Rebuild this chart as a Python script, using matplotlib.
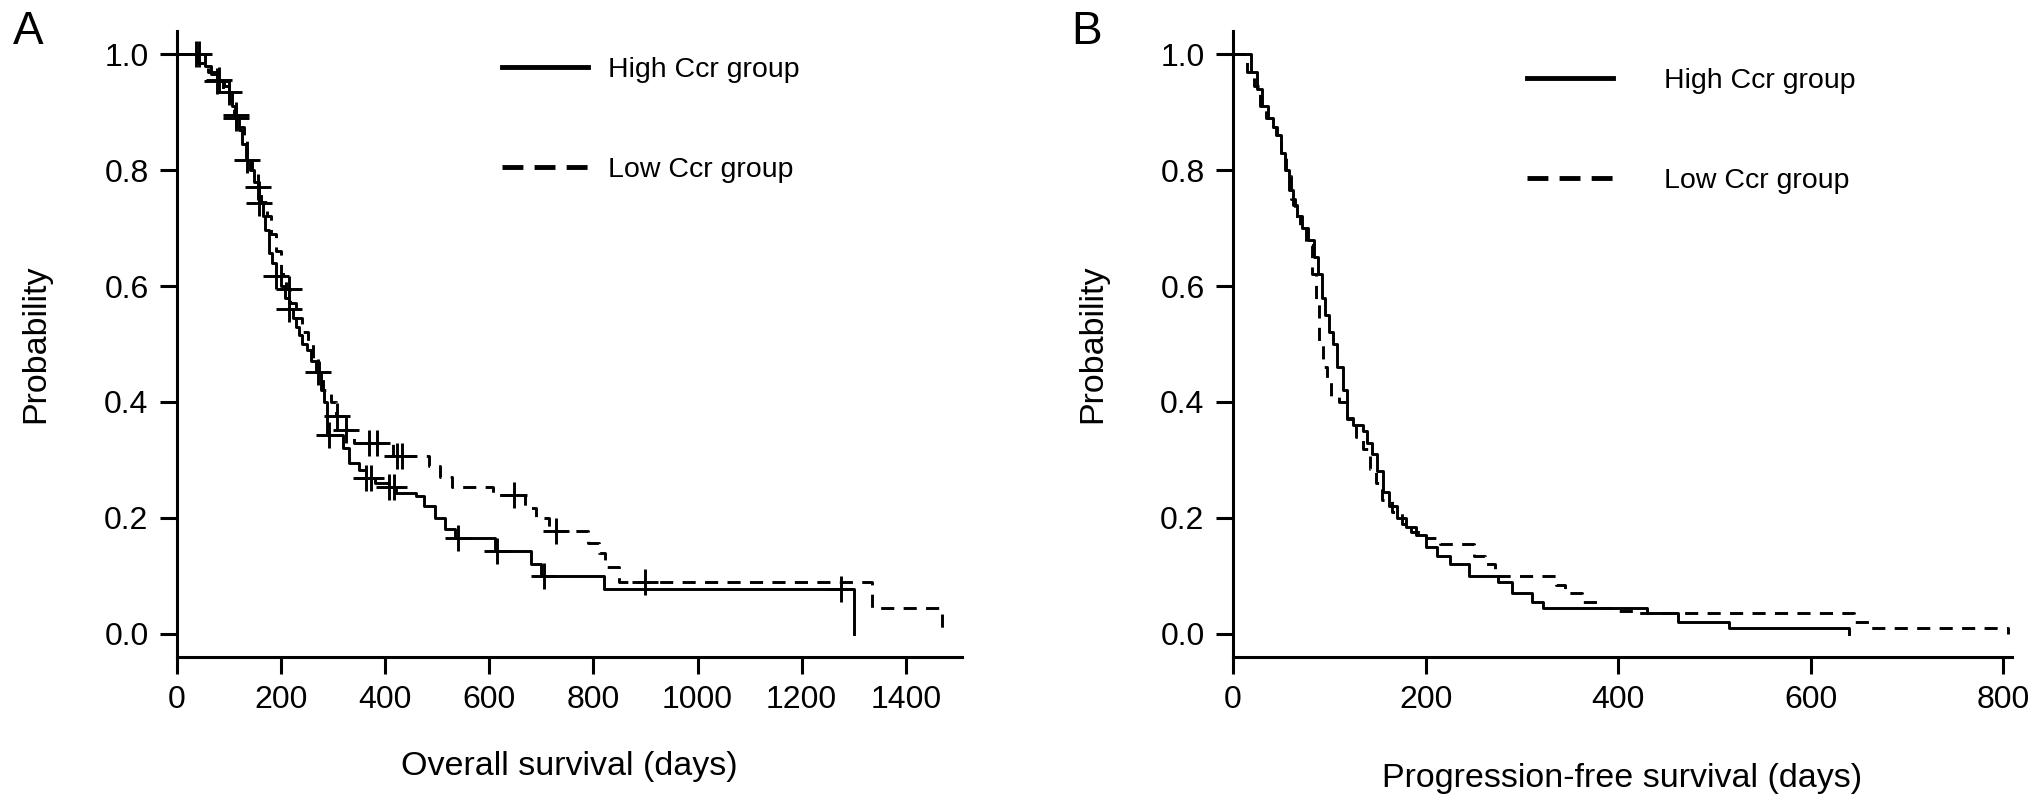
import numpy as np
from matplotlib import pyplot as plt
from matplotlib.lines import Line2D

# Panel A: overall survival (days) / probability
os_high_t = [0, 54, 65, 77, 90, 100, 106, 112, 119, 125, 132, 140, 148, 158, 165, 170, 177, 183, 190, 200,
             208, 215, 222, 228, 235, 241, 250, 258, 267, 276, 282, 289, 318, 330, 350, 363, 380, 408, 420, 460,
             475, 495, 515, 535, 610, 680, 700, 820, 1300]
os_high_s = [1.0, 0.979, 0.965, 0.953, 0.945, 0.935, 0.91, 0.89, 0.87, 0.845, 0.818, 0.80, 0.78, 0.744, 0.72, 0.697, 0.657, 0.64, 0.617, 0.60,
             0.58, 0.56, 0.545, 0.53, 0.515, 0.50, 0.49, 0.47, 0.452, 0.421, 0.40, 0.343, 0.32, 0.295, 0.283, 0.268, 0.26, 0.254, 0.243, 0.237,
             0.22, 0.20, 0.18, 0.166, 0.143, 0.12, 0.10, 0.077, 0.0]
os_high_cens = [36, 42, 77, 100, 113, 135, 158, 190, 215, 270, 292, 363, 372, 408, 417, 540, 615, 705, 1275]

os_low_t = [0, 40, 60, 75, 88, 100, 110, 118, 128, 135, 145, 155, 162, 172, 180, 190, 200, 210, 218, 228,
            240, 252, 262, 272, 280, 295, 305, 324, 340, 415, 485, 506, 528, 608, 668, 690, 715, 790, 810, 822,
            850, 1335, 1470]
os_low_s = [1.0, 0.985, 0.97, 0.955, 0.94, 0.92, 0.895, 0.875, 0.85, 0.825, 0.80, 0.77, 0.745, 0.72, 0.69, 0.66, 0.62, 0.595, 0.57, 0.545,
            0.52, 0.50, 0.475, 0.45, 0.42, 0.40, 0.375, 0.352, 0.33, 0.306, 0.29, 0.27, 0.254, 0.24, 0.217, 0.20, 0.177, 0.157, 0.14, 0.116,
            0.09, 0.045, 0.0]
os_low_cens = [80, 113, 155, 215, 308, 325, 369, 385, 423, 433, 648, 728, 900]

# Panel B: progression-free survival (days) / probability
pfs_high_t = [0, 19, 25, 30, 36, 42, 46, 50, 54, 58, 62, 66, 72, 78, 84, 88, 92, 96, 100, 104,
              108, 114, 118, 125, 135, 139, 144, 150, 156, 162, 170, 180, 190, 200, 212, 225, 245, 275, 290, 310,
              322, 430, 462, 515, 640]
pfs_high_s = [1.0, 0.97, 0.94, 0.91, 0.89, 0.875, 0.86, 0.83, 0.80, 0.765, 0.74, 0.72, 0.70, 0.68, 0.65, 0.62, 0.58, 0.55, 0.52, 0.50,
              0.46, 0.42, 0.372, 0.36, 0.35, 0.33, 0.31, 0.28, 0.245, 0.22, 0.20, 0.185, 0.17, 0.15, 0.135, 0.12, 0.10, 0.09, 0.07, 0.055,
              0.045, 0.035, 0.02, 0.01, 0.0]

pfs_low_t = [0, 15, 22, 28, 34, 40, 45, 50, 55, 60, 64, 70, 76, 82, 86, 89, 93, 98, 102, 110,
             118, 128, 135, 142, 148, 155, 165, 175, 185, 200, 215, 250, 262, 272, 335, 345, 362, 380, 400, 422,
             645, 662, 805]
pfs_low_s = [1.0, 0.97, 0.945, 0.91, 0.89, 0.875, 0.86, 0.83, 0.79, 0.75, 0.72, 0.70, 0.67, 0.62, 0.576, 0.50, 0.46, 0.44, 0.41, 0.40,
             0.37, 0.34, 0.318, 0.285, 0.26, 0.23, 0.21, 0.19, 0.175, 0.165, 0.155, 0.135, 0.12, 0.10, 0.085, 0.07, 0.055, 0.045, 0.04, 0.035,
             0.02, 0.01, 0.0]

y_ticks = [0.0, 0.2, 0.4, 0.6, 0.8, 1.0]
os_ticks = [0, 200, 400, 600, 800, 1000, 1200, 1400]
pfs_ticks = [0, 200, 400, 600, 800]
legend_labels = ["High Ccr group", "Low Ccr group"]

TICK_FS = 23
LABEL_FS = 24.5
LEG_FS = 20.5
DASH = (4.5, 3.2)


def step_at(t, s, x):
    idx = np.searchsorted(np.array(t), np.array(x), side="right") - 1
    return np.array(s)[idx]


def style_axes(ax, xmax, xticks, xlabel, xlab_y):
    ax.set_xlim(0, xmax)
    ax.set_ylim(-0.04, 1.04)
    ax.set_xticks(xticks)
    ax.set_yticks(y_ticks)
    ax.set_yticklabels(["%.1f" % v for v in y_ticks])
    for side in ["top", "right"]:
        ax.spines[side].set_visible(False)
    for side in ["left", "bottom"]:
        ax.spines[side].set_linewidth(2.2)
    ax.tick_params(direction="out", length=12.5, width=2.2, pad=8, labelsize=TICK_FS)
    ax.set_xlabel(xlabel, fontsize=LABEL_FS)
    ax.set_ylabel("Probability", fontsize=LABEL_FS)
    ax.xaxis.set_label_coords(0.5, xlab_y)
    ax.yaxis.set_label_coords(-0.16, 0.5)


def add_legend(ax, x0, y0, textpad):
    handles = [Line2D([], [], color="black", lw=3.5),
               Line2D([], [], color="black", lw=3.5, dashes=(4.3, 2.3))]
    ax.legend(handles, legend_labels, loc="upper left", bbox_to_anchor=(x0, y0), frameon=False,
              fontsize=LEG_FS, handlelength=3.0, handletextpad=textpad, labelspacing=2.6)


def main():
    plt.rcParams["font.family"] = ["Liberation Sans", "DejaVu Sans"]
    fig = plt.figure(figsize=(20.32, 8.05), dpi=100)

    ax1 = fig.add_axes([0.0871, 0.1839, 0.3863, 0.7776])
    ax1.plot(os_high_t, os_high_s, drawstyle="steps-post", c="black", lw=2.1)
    ax1.plot(os_low_t, os_low_s, drawstyle="steps-post", c="black", lw=2.1, dashes=DASH)
    ax1.plot(os_high_cens, step_at(os_high_t, os_high_s, os_high_cens), "+", c="black", ms=19, mew=2.1)
    ax1.plot(os_low_cens, step_at(os_low_t, os_low_s, os_low_cens), "+", c="black", ms=19, mew=2.1)
    style_axes(ax1, 1508, os_ticks, "Overall survival (days)", -0.15)
    add_legend(ax1, 0.382, 1.0, 0.7)

    ax2 = fig.add_axes([0.6068, 0.1839, 0.3834, 0.7776])
    ax2.plot(pfs_high_t, pfs_high_s, drawstyle="steps-post", c="black", lw=2.1)
    ax2.plot(pfs_low_t, pfs_low_s, drawstyle="steps-post", c="black", lw=2.1, dashes=DASH)
    style_axes(ax2, 809, pfs_ticks, "Progression-free survival (days)", -0.17)
    add_legend(ax2, 0.345, 0.982, 1.8)

    fig.text(13 / 2032, 1 - 10 / 805, "A", fontsize=33, va="top", ha="left")
    fig.text(1071 / 2032, 1 - 10 / 805, "B", fontsize=33, va="top", ha="left")

    fig.savefig("out.png", dpi=100)


if __name__ == "__main__":
    main()
